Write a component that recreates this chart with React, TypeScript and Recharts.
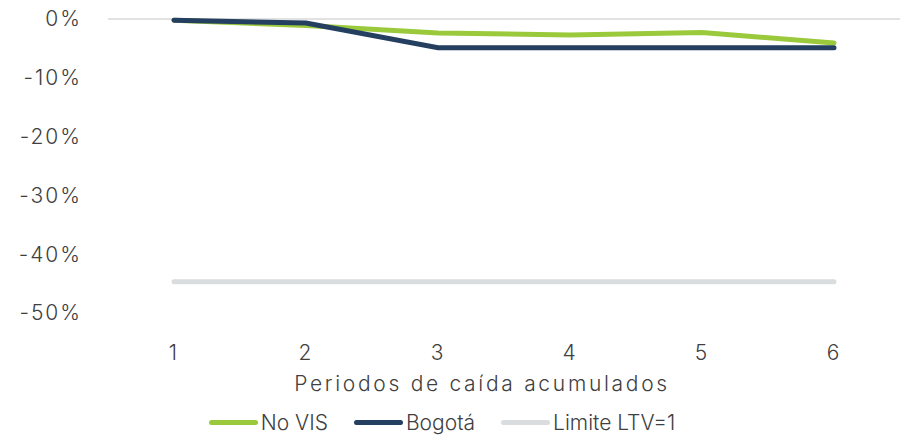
import React from 'react'
import {
  LineChart,
  Line,
  XAxis,
  YAxis,
  ReferenceLine,
  Legend,
} from 'recharts'

const periods = ['1', '2', '3', '4', '5', '6']
const noVis = [-0.2, -1.1, -2.4, -2.7, -2.3, -4.1]
const bogota = [-0.2, -0.7, -4.9, -4.9, -4.9, -4.9]
const limite = [-44.7, -44.7, -44.7, -44.7, -44.7, -44.7]
const yTicks = [0, -10, -20, -30, -40, -50]
const legendOrder = ['No VIS', 'Bogotá', 'Limite LTV=1']

const FONT = 'Inter, "Noto Sans", sans-serif'
const TEXT = '#404040'
const textStyle = {
  fill: TEXT,
  fontSize: 21,
  fontFamily: FONT,
  fontWeight: 300,
  letterSpacing: 2,
}

const data = periods.map((p, i) => ({
  periodo: p,
  noVis: noVis[i],
  bogota: bogota[i],
  limite: limite[i],
}))

const renderLegend = (props: any) => {
  const items = [...props.payload].sort(
    (a: any, b: any) => legendOrder.indexOf(a.value) - legendOrder.indexOf(b.value)
  )
  return (
    <div
      style={{
        display: 'flex',
        justifyContent: 'center',
        alignItems: 'center',
        gap: 26,
        fontFamily: FONT,
        fontSize: 21,
        fontWeight: 300,
        color: TEXT,
        transform: 'translateX(-12px)',
      }}
    >
      {items.map((entry: any) => (
        <div key={entry.value} style={{ display: 'flex', alignItems: 'center' }}>
          <span
            style={{
              display: 'inline-block',
              width: 49,
              height: 5,
              borderRadius: 3,
              background: entry.color,
              marginRight: 3,
            }}
          />
          <span>{entry.value}</span>
        </div>
      ))}
    </div>
  )
}

export default function App() {
  return (
    <div style={{ position: 'absolute', left: 0, top: 0, background: '#fff' }}>
      <LineChart
        width={904}
        height={442}
        data={data}
        margin={{ top: 19, right: 4, left: 8, bottom: 0 }}
      >
        <ReferenceLine y={0} stroke="#D9D9D9" strokeWidth={1.5} />
        <XAxis
          dataKey="periodo"
          axisLine={false}
          tickLine={false}
          tickSize={0}
          tickMargin={32}
          height={97}
          padding={{ left: 66, right: 66 }}
          tick={textStyle}
          label={{
            value: 'Periodos de caída acumulados',
            position: 'insideBottom',
            offset: 19,
            dx: -22,
            ...textStyle,
            letterSpacing: 2.7,
          }}
        />
        <YAxis
          domain={[-50, 0]}
          ticks={yTicks}
          axisLine={false}
          tickLine={false}
          tickSize={0}
          tickMargin={26}
          width={100}
          tickFormatter={(v: number) => `${v}%`}
          tick={textStyle}
        />
        <Legend verticalAlign="bottom" height={32} content={renderLegend} />
        <Line
          dataKey="noVis"
          name="No VIS"
          stroke="#9ACA3C"
          strokeWidth={5}
          strokeLinecap="round"
          dot={false}
          type="linear"
          isAnimationActive={false}
        />
        <Line
          dataKey="bogota"
          name="Bogotá"
          stroke="#243F60"
          strokeWidth={5}
          strokeLinecap="round"
          dot={false}
          type="linear"
          isAnimationActive={false}
        />
        <Line
          dataKey="limite"
          name="Limite LTV=1"
          stroke="#D9DDE0"
          strokeWidth={5}
          strokeLinecap="round"
          dot={false}
          type="linear"
          isAnimationActive={false}
        />
      </LineChart>
    </div>
  )
}
